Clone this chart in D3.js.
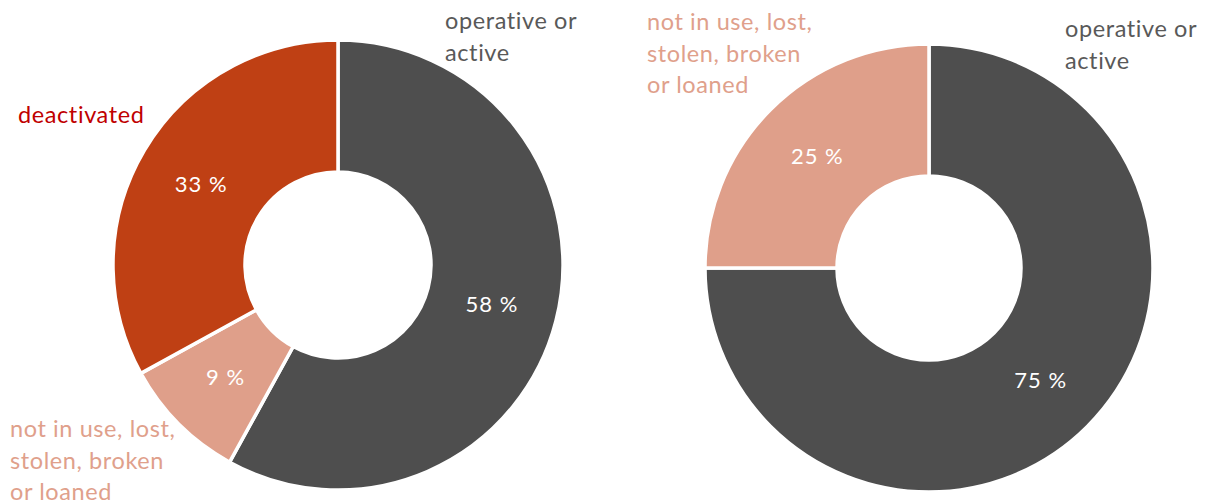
<!DOCTYPE html>
<html>
<head>
<meta charset="utf-8">
<script src="https://cdn.jsdelivr.net/npm/d3@7"></script>
<style>
  html, body { margin: 0; padding: 0; background: #ffffff; }
  svg { display: block; }
  text { font-family: Lato, "Open Sans", sans-serif; }
</style>
</head>
<body>
<svg id="chart" width="1205" height="504"></svg>
<script>
// Device status shares, two groups
const leftCategories = ["operative or active", "not in use, lost, stolen, broken or loaned", "deactivated"];
const leftValues = [58, 9, 33];
const rightCategories = ["operative or active", "not in use, lost, stolen, broken or loaned"];
const rightValues = [75, 25];

const colorByCategory = {
  "operative or active": "#4e4e4e",
  "not in use, lost, stolen, broken or loaned": "#df9f8a",
  "deactivated": "#bf4014"
};
const labelColorByCategory = {
  "operative or active": "#595959",
  "not in use, lost, stolen, broken or loaned": "#e0a08b",
  "deactivated": "#c00000"
};

const svg = d3.select("#chart");
const pie = d3.pie().sort(null).value(d => d.value);

function donut(cx, cy, rOuter, rInner, categories, values, outerLabels) {
  const data = categories.map((c, i) => ({ category: c, value: values[i] }));
  const arcs = pie(data);
  const arc = d3.arc().innerRadius(rInner).outerRadius(rOuter);
  const g = svg.append("g").attr("transform", `translate(${cx},${cy})`);

  g.selectAll("path.slice")
    .data(arcs)
    .join("path")
    .attr("class", "slice")
    .attr("d", arc)
    .attr("fill", d => colorByCategory[d.data.category])
    .attr("stroke", "#ffffff")
    .attr("stroke-width", 3.5)
    .attr("stroke-linejoin", "miter");

  g.selectAll("text.pct")
    .data(arcs)
    .join("text")
    .attr("class", "pct")
    .attr("transform", d => `translate(${arc.centroid(d)})`)
    .attr("text-anchor", "middle")
    .attr("dy", "0.36em")
    .attr("fill", "#ffffff")
    .style("font-size", "22px")
    .style("letter-spacing", "1px")
    .text(d => `${d.data.value} %`);

  // Category names placed around the ring
  outerLabels.forEach(l => {
    const t = svg.append("text")
      .attr("x", l.x)
      .attr("y", l.y)
      .attr("fill", labelColorByCategory[l.category])
      .style("font-size", "23.5px")
      .style("letter-spacing", "0.6px");
    l.lines.forEach((line, i) => {
      t.append("tspan")
        .attr("x", l.x)
        .attr("dy", i === 0 ? 0 : 31.5)
        .text(line);
    });
  });
}

donut(338, 265, 225, 93, leftCategories, leftValues, [
  { category: "operative or active", x: 445, y: 29, lines: ["operative or", "active"] },
  { category: "deactivated", x: 18, y: 123, lines: ["deactivated"] },
  { category: "not in use, lost, stolen, broken or loaned", x: 10, y: 437, lines: ["not in use, lost,", "stolen, broken", "or loaned"] }
]);

donut(929, 268, 224, 92, rightCategories, rightValues, [
  { category: "operative or active", x: 1065, y: 37, lines: ["operative or", "active"] },
  { category: "not in use, lost, stolen, broken or loaned", x: 647, y: 30, lines: ["not in use, lost,", "stolen, broken", "or loaned"] }
]);
</script>
</body>
</html>
